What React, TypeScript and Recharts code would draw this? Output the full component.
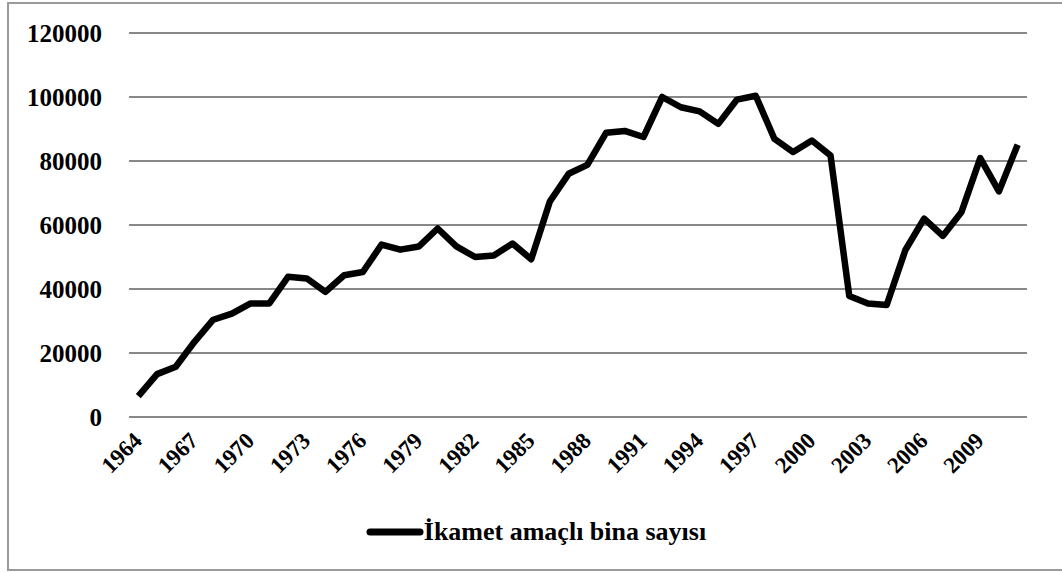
import { LineChart, Line, XAxis, YAxis, CartesianGrid, Legend } from "recharts"

const years = [
  1964, 1965, 1966, 1967, 1968, 1969, 1970, 1971, 1972, 1973, 1974, 1975,
  1976, 1977, 1978, 1979, 1980, 1981, 1982, 1983, 1984, 1985, 1986, 1987,
  1988, 1989, 1990, 1991, 1992, 1993, 1994, 1995, 1996, 1997, 1998, 1999,
  2000, 2001, 2002, 2003, 2004, 2005, 2006, 2007, 2008, 2009, 2010, 2011,
]

const buildings = [
  6500, 13400, 15700, 23500, 30400, 32300, 35500, 35500, 43800, 43300, 39100, 44300,
  45300, 53900, 52300, 53300, 58900, 53300, 50000, 50500, 54200, 49300, 67400, 76000,
  78800, 88800, 89400, 87500, 100000, 96800, 95500, 91600, 99200, 100400, 86900, 82800,
  86400, 81700, 37800, 35500, 35000, 52200, 62000, 56600, 64100, 80900, 70500, 85100,
]

const yTicks = [0, 20000, 40000, 60000, 80000, 100000, 120000]

const seriesName = "İkamet amaçlı bina sayısı"

const data = years.map((y, i) => ({ year: String(y), value: buildings[i] }))

const font = "Liberation Serif, DejaVu Serif, serif"

function YearTick({ x, y, payload }: any) {
  return (
    <g transform={`translate(${x + 5},${y + 17})`}>
      <text
        textAnchor="end"
        transform="rotate(-45)"
        style={{ fontFamily: font, fontWeight: "bold", fontSize: 23 }}
        fill="#000"
      >
        {payload.value}
      </text>
    </g>
  )
}

function LegendContent() {
  return (
    <div style={{ height: 40, paddingLeft: 45, display: "flex", justifyContent: "center", alignItems: "center" }}>
      <svg width={58} height={10}>
        <line x1={4} y1={5} x2={54} y2={5} stroke="#000" strokeWidth={7} strokeLinecap="round" />
      </svg>
      <span style={{ fontFamily: font, fontWeight: "bold", fontSize: 26, color: "#000" }}>
        {seriesName}
      </span>
    </div>
  )
}

export default function App() {
  return (
    <div style={{ position: "absolute", left: 0, top: 0, width: 1062, height: 572, background: "#fff", overflow: "hidden" }}>
      <div
        style={{
          position: "absolute",
          left: 7,
          top: 2,
          width: 1070,
          height: 569,
          border: "2px solid #9a9a9a",
          boxSizing: "border-box",
        }}
      />
      <LineChart
        width={1062}
        height={572}
        data={data}
        margin={{ top: 33, right: 35, bottom: 45, left: 0 }}
      >
        <CartesianGrid vertical={false} stroke="#888" strokeWidth={2} />
        <XAxis
          dataKey="year"
          interval={2}
          tick={<YearTick />}
          tickLine={false}
          axisLine={{ stroke: "#888", strokeWidth: 2 }}
          height={70}
          padding={{ left: 9.35, right: 9.35 }}
        />
        <YAxis
          domain={[0, 120000]}
          ticks={yTicks}
          width={129}
          axisLine={false}
          tickLine={false}
          tickMargin={21}
          tick={{ style: { fontFamily: font, fontWeight: "bold", fontSize: 25 }, fill: "#000" }}
        />
        <Legend
          verticalAlign="bottom"
          content={<LegendContent />}
          wrapperStyle={{ bottom: 20 }}
        />
        <Line
          type="linear"
          dataKey="value"
          name={seriesName}
          stroke="#000"
          strokeWidth={6.5}
          strokeLinejoin="round"
          dot={false}
          isAnimationActive={false}
        />
      </LineChart>
    </div>
  )
}
